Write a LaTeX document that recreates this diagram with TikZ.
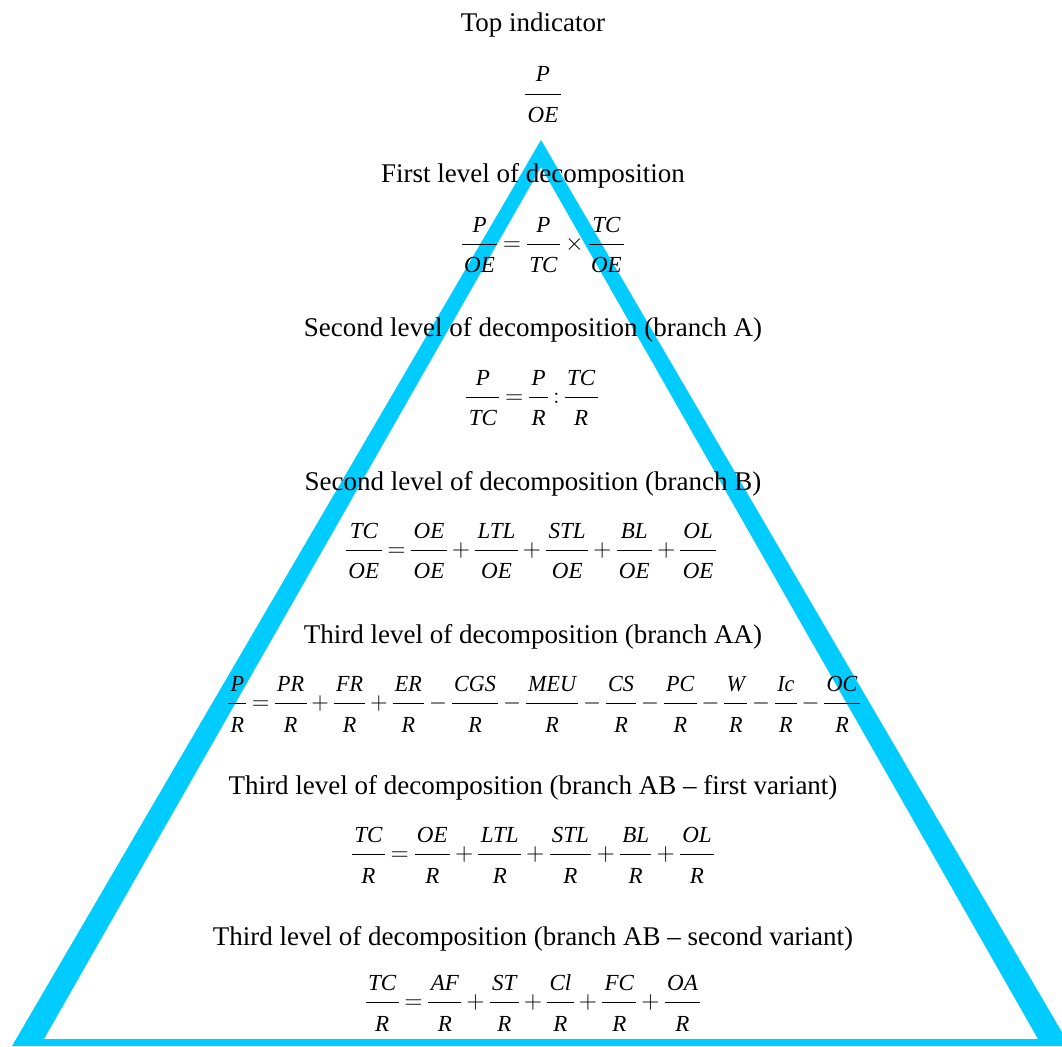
\documentclass[tikz,border=0pt]{standalone}
\usepackage{amsmath}
\usepackage{fontspec}
\setmainfont{Liberation Serif}
\definecolor{pyrcyan}{RGB}{0,204,255}
\newcommand\fr[2]{\dfrac{\kern1.2pt\textit{#1}\rule[-4.4pt]{0pt}{0pt}\kern1.2pt}{\kern1.2pt\rule{0pt}{12.7pt}\textit{#2}\kern1.2pt}}
\newcommand\eqsp{\medmuskip=2mu\relax\thickmuskip=2.5mu\relax}

\begin{document}
\begin{tikzpicture}[x=0.5pt,y=-0.5pt,
  every node/.style={inner sep=0pt},
  level/.style={anchor=base,font=\fontsize{13.5}{16}\selectfont},
  formula/.style={anchor=center,font=\fontsize{11.5}{14}\selectfont,execute at begin node=\eqsp}]
  \useasboundingbox (0,0) rectangle (1062,1046);
  % pyramid frame
  \coordinate (T) at (541,140);
  \coordinate (L) at (12,1046);
  \coordinate (R) at (1070,1046);
  \coordinate (t) at (541,167);
  \coordinate (l) at (44,1039);
  \coordinate (r) at (1038,1039);
  \fill[pyrcyan,even odd rule] (T) -- (L) -- (R) -- cycle (t) -- (l) -- (r) -- cycle;
  % levels
  \node[level] (top) at (533,31) {Top indicator};
  \node[formula] (f0) at (543,95) {$\fr{P}{OE}$};
  \node[level] (lev1) at (533,182) {First level of decomposition};
  \node[formula] (f1) at (543,245) {$\fr{P}{OE}=\fr{P}{TC}\times\fr{TC}{OE}$};
  \node[level] (lev2a) at (533,336) {Second level of decomposition (branch A)};
  \node[formula] (f2a) at (532,398) {$\fr{P}{TC}=\fr{P}{R}\mathbin{:}\fr{TC}{R}$};
  \node[level] (lev2b) at (533,490) {Second level of decomposition (branch B)};
  \node[formula] (f2b) at (531,551) {$\fr{TC}{OE}=\fr{OE}{OE}+\fr{LTL}{OE}+\fr{STL}{OE}+\fr{BL}{OE}+\fr{OL}{OE}$};
  \node[level] (lev3aa) at (533,643) {Third level of decomposition (branch AA)};
  \node[formula] (f3aa) at (544,704) {\resizebox{318pt}{\height}{$\fr{P}{R}=\fr{PR}{R}+\fr{FR}{R}+\fr{ER}{R}-\fr{CGS}{R}-\fr{MEU}{R}-\fr{CS}{R}-\fr{PC}{R}-\fr{W}{R}-\fr{Ic}{R}-\fr{OC}{R}$}};
  \node[level] (lev3ab) at (533,794) {Third level of decomposition (branch AB -- first variant)};
  \node[formula] (f3ab) at (533,855) {$\fr{TC}{R}=\fr{OE}{R}+\fr{LTL}{R}+\fr{STL}{R}+\fr{BL}{R}+\fr{OL}{R}$};
  \node[level] (lev3ac) at (533,945) {Third level of decomposition (branch AB -- second variant)};
  \node[formula] (f3ac) at (533,1003) {$\fr{TC}{R}=\fr{AF}{R}+\fr{ST}{R}+\fr{Cl}{R}+\fr{FC}{R}+\fr{OA}{R}$};
\end{tikzpicture}
\end{document}
